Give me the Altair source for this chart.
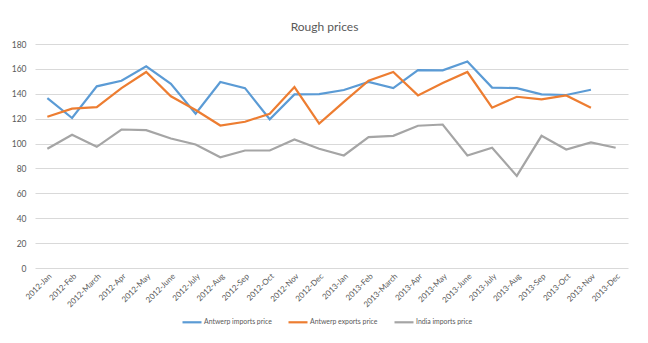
import altair as alt
import pandas as pd

months = ["2012-Jan", "2012-Feb", "2012-March", "2012-Apr", "2012-May", "2012-June",
          "2012-July", "2012-Aug", "2012-Sep", "2012-Oct", "2012-Nov", "2012-Dec",
          "2013-Jan", "2013-Feb", "2013-March", "2013-Apr", "2013-May", "2013-June",
          "2013-July", "2013-Aug", "2013-Sep", "2013-Oct", "2013-Nov", "2013-Dec"]

antwerp_imports = [136.5, 120.5, 146, 150.5, 162, 148, 124, 149.5, 144.5, 119.5, 139.5, 139.8,
                   143, 149.5, 144.5, 159, 158.8, 166, 145, 144.5, 139.5, 139, 143.2, None]
antwerp_exports = [121.5, 128, 129.3, 144.5, 157.5, 138, 127, 114.5, 117.5, 124, 145.4, 116,
                   133.5, 150.5, 157.5, 138.7, 148.6, 157.5, 128.8, 137.6, 135.5, 138.7, 128.8, None]
india_imports = [95.8, 107, 97.4, 111.3, 110.8, 104.1, 99.2, 89, 94.4, 94.4, 103.3, 95.8,
                 90.4, 105.2, 106.2, 114.3, 115.3, 90.4, 96.6, 74, 106.2, 95.2, 100.9, 96.6]

series_names = ["Antwerp imports price", "Antwerp exports price", "India imports price"]
colors = ["#5B9BD5", "#ED7D31", "#A5A5A5"]

rows = []
for name, vals in zip(series_names, [antwerp_imports, antwerp_exports, india_imports]):
    for m, v in zip(months, vals):
        if v is not None:
            rows.append({"month": m, "value": v, "series": name})
df = pd.DataFrame(rows)

FONT = "Lato"
TXT = "#595959"

chart = alt.Chart(df).mark_line(strokeWidth=2.2).encode(
    x=alt.X("month:O", sort=months, title=None,
            scale=alt.Scale(domain=months, padding=0.5),
            axis=alt.Axis(labelAngle=-45, domain=False, ticks=False, grid=False,
                          labelFont=FONT, labelFontSize=8, labelColor=TXT, labelPadding=4)),
    y=alt.Y("value:Q", title=None,
            scale=alt.Scale(domain=[0, 180], nice=False),
            axis=alt.Axis(values=[0, 20, 40, 60, 80, 100, 120, 140, 160, 180],
                          domain=False, ticks=False, gridColor="#D9D9D9", gridWidth=1,
                          labelFont=FONT, labelFontSize=8.5, labelColor=TXT, labelPadding=9)),
    color=alt.Color("series:N", sort=series_names,
                    scale=alt.Scale(domain=series_names, range=colors),
                    legend=alt.Legend(title=None, orient="none", direction="horizontal",
                                      legendX=146, legendY=267,
                                      symbolType="stroke", symbolSize=361, symbolStrokeWidth=2.2,
                                      labelFont=FONT, labelFontSize=6.9, labelColor=TXT,
                                      columnPadding=12, labelOffset=1)),
).properties(
    width=593, height=224,
    padding={"left": 35, "top": 44, "right": 20, "bottom": 75},
    autosize=alt.AutoSizeParams(type="none"),
    title=alt.TitleParams("Rough prices", font=FONT, fontSize=12, fontWeight="normal",
                          color=TXT, anchor="middle", dx=-7, offset=6),
).configure_view(stroke=None)

chart.save("out.html", embed_options={"renderer": "svg", "actions": False})
